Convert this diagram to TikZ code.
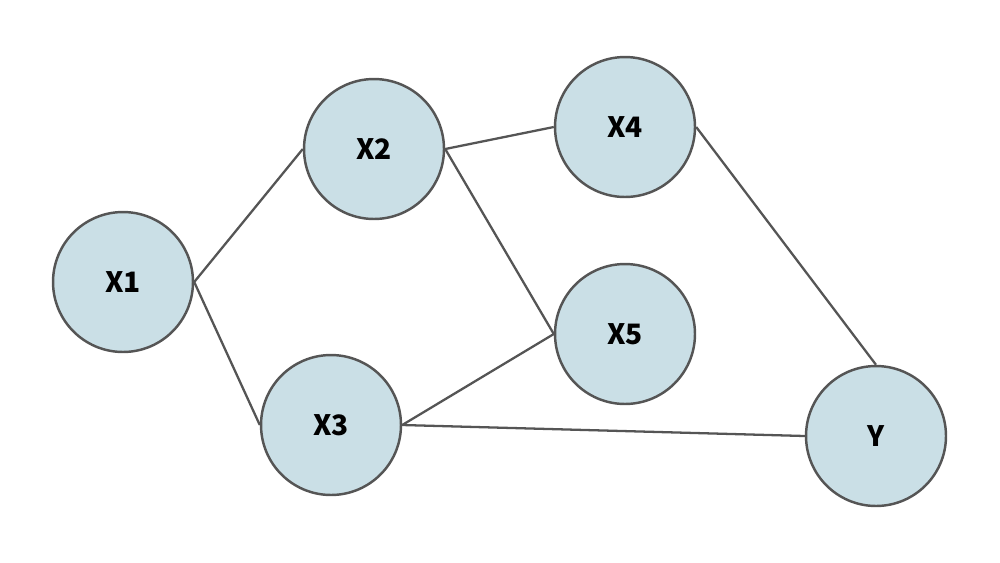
\documentclass[tikz,border=0pt]{standalone}
\usepackage{fontspec}
\newfontfamily\lblfont{Noto Sans CJK SC}
\definecolor{nodefill}{HTML}{CADFE6}
\definecolor{edgecol}{HTML}{555555}
\tikzset{
  var/.style={circle, draw=edgecol, fill=nodefill, line width=1.4pt,
    minimum size=2.8cm, inner sep=0pt, font=\lblfont\bfseries\fontsize{16}{18}\selectfont},
  link/.style={draw=edgecol, line width=1.3pt}
}
\begin{document}
\begin{tikzpicture}[x=0.02cm,y=-0.02cm]
\useasboundingbox (0,0) rectangle (1000,562);
\node[var] (x1) at (123,282) {X1};
\node[var] (x2) at (374,149) {X2};
\node[var] (x3) at (331,425) {X3};
\node[var] (x4) at (625,127) {X4};
\node[var] (x5) at (625,334) {X5};
\node[var] (y) at (876,436) {Y};
\draw[link] (x1.east) -- (x2.west);
\draw[link] (x1.east) -- (x3.west);
\draw[link] (x2.east) -- (x4.west);
\draw[link] (x2.east) -- (x5.west);
\draw[link] (x3.east) -- (x5.west);
\draw[link] (x3.east) -- (y.west);
\draw[link] (x4.east) -- (y.north);
\end{tikzpicture}
\end{document}
